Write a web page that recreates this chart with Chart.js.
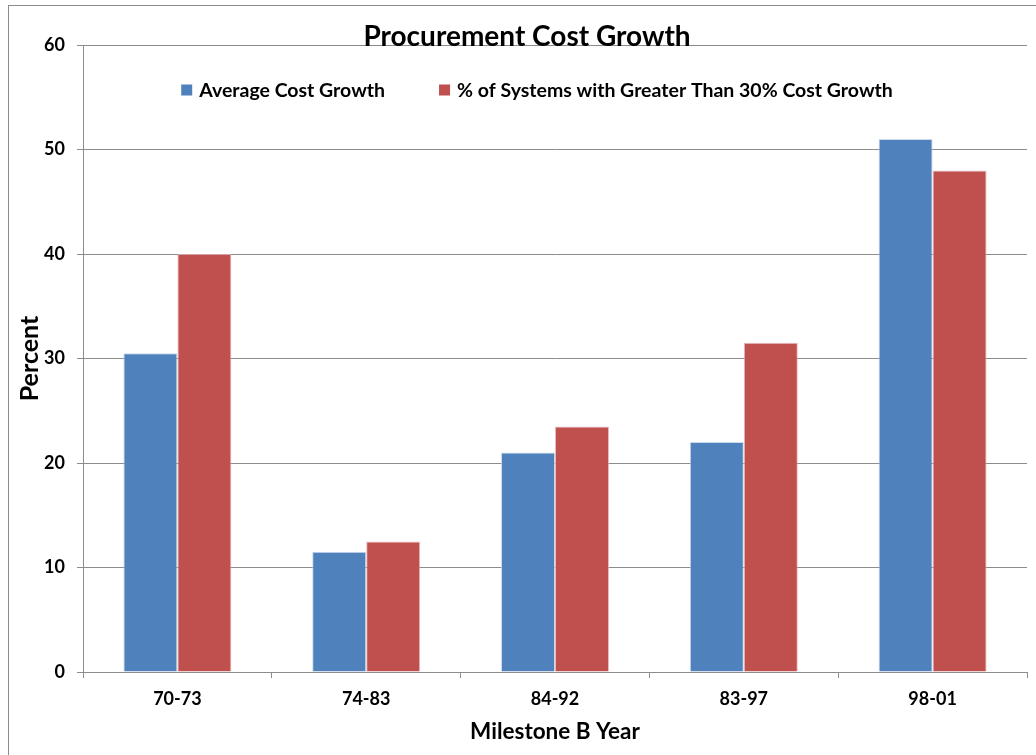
<!DOCTYPE html>
<html>
<head>
<meta charset="utf-8">
<script src="https://cdn.jsdelivr.net/npm/chart.js@4/dist/chart.umd.min.js"></script>
<style>
  html, body { margin: 0; padding: 0; background: #fff; }
  #wrap { width: 1036px; height: 755px; position: relative; }
</style>
</head>
<body>
<div id="wrap"><canvas id="costChart" width="1036" height="755"></canvas></div>
<script>
// Milestone B year groups and the two measured series (percent)
const periods = ['70-73', '74-83', '84-92', '83-97', '98-01'];
const avgCostGrowth = [30.5, 11.5, 21, 22, 51];
const pctOver30 = [40, 12.5, 23.5, 31.5, 48];
const yTicks = [0, 10, 20, 30, 40, 50, 60];

const FONT = 'Lato, "Open Sans", sans-serif';

// Outer frame, title and the in-plot legend
const decorations = {
    id: 'decorations',
    beforeDraw(chart) {
        const ctx = chart.ctx;
        ctx.save();
        ctx.strokeStyle = '#8c8c8c';
        ctx.lineWidth = 1;
        ctx.strokeRect(8.5, 5.5, 1040, 760);
        ctx.restore();
    },
    afterDraw(chart) {
        const ctx = chart.ctx;
        ctx.save();
        ctx.fillStyle = '#000';
        ctx.textBaseline = 'middle';

        ctx.font = 'bold 28px ' + FONT;
        ctx.textAlign = 'center';
        ctx.fillText('Procurement Cost Growth', 527, 37);

        // legend row
        ctx.font = 'bold 19.5px ' + FONT;
        ctx.textAlign = 'left';
        const box = 11, gapText = 7, gapItem = 54;
        const items = chart.data.datasets.map(ds => ({
            label: ds.label,
            color: ds.backgroundColor,
            w: box + gapText + ctx.measureText(ds.label).width
        }));
        const total = items.reduce((s, it) => s + it.w, 0) + gapItem * (items.length - 1);
        let x = 537 - total / 2;
        const y = 90;
        items.forEach(it => {
            ctx.fillStyle = it.color;
            ctx.fillRect(x, y - box / 2, box, box);
            ctx.fillStyle = '#000';
            ctx.fillText(it.label, x + box + gapText, y + 1);
            x += it.w + gapItem;
        });
        ctx.restore();
    }
};

const ctx = document.getElementById('costChart').getContext('2d');
new Chart(ctx, {
    type: 'bar',
    data: {
        labels: periods,
        datasets: [
            {
                label: 'Average Cost Growth',
                data: avgCostGrowth,
                backgroundColor: '#4F81BD',
                borderColor: 'rgba(190,208,230,0.8)',
                borderWidth: 1
            },
            {
                label: '% of Systems with Greater Than 30% Cost Growth',
                data: pctOver30,
                backgroundColor: '#C0504D',
                borderColor: 'rgba(225,170,170,0.8)',
                borderWidth: 1
            }
        ]
    },
    options: {
        responsive: false,
        animation: false,
        layout: { padding: { left: 0, right: 9, top: 45, bottom: 0 } },
        datasets: {
            bar: { categoryPercentage: 0.572, barPercentage: 1.0 }
        },
        plugins: {
            legend: { display: false },
            title: { display: false },
            tooltip: { enabled: false }
        },
        scales: {
            x: {
                afterFit(scale) { scale.height = 83; },
                grid: {
                    offset: true,
                    drawOnChartArea: false,
                    drawTicks: true,
                    tickLength: 6,
                    color: '#8c8c8c'
                },
                border: { color: '#8c8c8c' },
                ticks: {
                    color: '#000',
                    padding: 10,
                    font: { family: FONT, size: 18, weight: 'bold' }
                },
                title: {
                    display: true,
                    text: 'Milestone B Year',
                    color: '#000',
                    padding: 10,
                    font: { family: FONT, size: 22.5, weight: 'bold' }
                }
            },
            y: {
                min: 0,
                max: 60,
                afterFit(scale) { scale.width = 83; },
                afterBuildTicks(scale) { scale.ticks = yTicks.map(v => ({ value: v })); },
                grid: {
                    color: '#8c8c8c',
                    tickLength: 6
                },
                border: { color: '#8c8c8c' },
                ticks: {
                    color: '#000',
                    padding: 12,
                    font: { family: FONT, size: 18, weight: 'bold' }
                },
                title: {
                    display: true,
                    text: 'Percent',
                    color: '#000',
                    padding: 15,
                    font: { family: FONT, size: 25, weight: 'bold' }
                }
            }
        }
    },
    plugins: [decorations]
});
</script>
</body>
</html>
